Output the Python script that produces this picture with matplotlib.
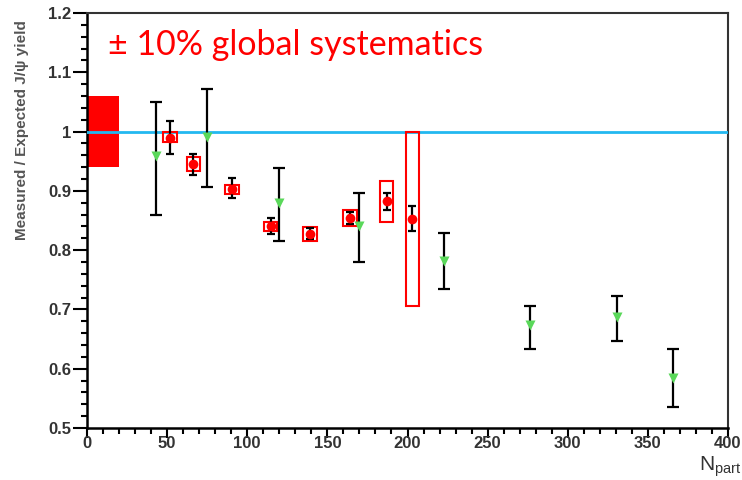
import matplotlib
matplotlib.use("Agg")
import matplotlib.pyplot as plt
from matplotlib.patches import Rectangle
from matplotlib.ticker import MultipleLocator, FormatStrFormatter

# green points (triangles), value and stat error ends
green_x = [43, 74.7, 119.8, 169.5, 223, 276.4, 330.7, 365.5]
green_y = [0.959, 0.991, 0.879, 0.841, 0.782, 0.673, 0.688, 0.584]
green_hi = [1.050, 1.071, 0.938, 0.896, 0.829, 0.705, 0.723, 0.633]
green_lo = [0.860, 0.906, 0.816, 0.780, 0.734, 0.633, 0.647, 0.536]

# red points with stat bars and syst boxes
red_x = [51.8, 66.3, 90.5, 114.6, 139.2, 164.1, 187.0, 203.0]
red_y = [0.990, 0.945, 0.903, 0.841, 0.828, 0.855, 0.883, 0.853]
red_stat_hi = [1.018, 0.963, 0.921, 0.854, 0.838, 0.865, 0.897, 0.874]
red_stat_lo = [0.963, 0.927, 0.888, 0.827, 0.818, 0.844, 0.868, 0.833]
red_syst_hi = [0.999, 0.957, 0.910, 0.848, 0.839, 0.868, 0.917, 1.000]
red_syst_lo = [0.983, 0.934, 0.895, 0.833, 0.816, 0.841, 0.847, 0.706]

global_syst = 0.06
global_width = 20

plt.rcParams['font.family'] = ['Liberation Sans', 'DejaVu Sans']
plt.rcParams['mathtext.fontset'] = 'custom'
plt.rcParams['mathtext.rm'] = 'Liberation Sans'

W, H = 742, 480
fig = plt.figure(figsize=(W / 100, H / 100), dpi=100)
ax = fig.add_axes([87 / W, 1 - 428 / H, (728 - 87) / W, (428 - 13) / H])

ax.set_xlim(0, 400)
ax.set_ylim(0.5, 1.2)

# global systematic box
ax.add_patch(Rectangle((0, 1 - global_syst), global_width, 2 * global_syst,
                       facecolor='#ff0000', edgecolor='none', zorder=2))
ax.axhline(1.0, color='#22b8f0', lw=2, zorder=3)

box_w = 8.4
for x, lo, hi in zip(red_x, red_syst_lo, red_syst_hi):
    ax.add_patch(Rectangle((x - box_w / 2, lo), box_w, hi - lo, facecolor='none',
                           edgecolor='#ff0000', lw=1.5, zorder=4))

green_err = [[y - l for y, l in zip(green_y, green_lo)],
             [h - y for y, h in zip(green_y, green_hi)]]
ax.errorbar(green_x, green_y, yerr=green_err, fmt='none', ecolor='black',
            elinewidth=1.6, capsize=4, capthick=1.6, zorder=5)
ax.plot(green_x, green_y, 'v', color='#5ad85a', ms=7, mec='none', zorder=6)

red_err = [[y - l for y, l in zip(red_y, red_stat_lo)],
           [h - y for y, h in zip(red_y, red_stat_hi)]]
ax.errorbar(red_x, red_y, yerr=red_err, fmt='none', ecolor='black',
            elinewidth=1.6, capsize=3, capthick=1.6, zorder=5)
ax.plot(red_x, red_y, 'o', color='#ff0000', ms=7, mec='none', zorder=6)

# axes styling, ROOT-like
ax.xaxis.set_major_locator(MultipleLocator(50))
ax.xaxis.set_minor_locator(MultipleLocator(10))
ax.yaxis.set_major_locator(MultipleLocator(0.1))
ax.yaxis.set_minor_locator(MultipleLocator(0.02))
ax.yaxis.set_major_formatter(FormatStrFormatter('%g'))
ax.tick_params(axis='both', which='major', direction='out', width=1.5,
               labelsize=12, labelcolor='#333333')
ax.tick_params(axis='x', which='major', length=7.5, pad=-2)
ax.tick_params(axis='y', which='major', length=10, pad=1.5)
ax.tick_params(axis='x', which='minor', direction='out', length=4, width=1.5)
ax.tick_params(axis='y', which='minor', direction='out', length=4.5, width=1.5)
for lab in ax.get_xticklabels() + ax.get_yticklabels():
    lab.set_fontweight('bold')
for s in ['left', 'bottom']:
    ax.spines[s].set_linewidth(1.8)
for s in ['top', 'right']:
    ax.spines[s].set_linewidth(1.5)
    ax.spines[s].set_color('#333333')

fig.text(22 / W, 1 - 130 / H, 'Measured / Expected J/\u03c8 yield', rotation=90,
         ha='center', va='center', fontsize=11, color='#555555', fontweight='bold')
fig.text(741 / W, 1 / H, r'$\mathrm{N_{part}}$', ha='right', va='bottom',
         fontsize=15, color='#333333')
fig.text(108 / W, 1 - 55 / H, '\u00b1 10% global systematics', ha='left',
         va='baseline', fontsize=24.5, color='#ff0000', family=['Lato', 'DejaVu Sans'])

fig.savefig('out.png', dpi=100)
